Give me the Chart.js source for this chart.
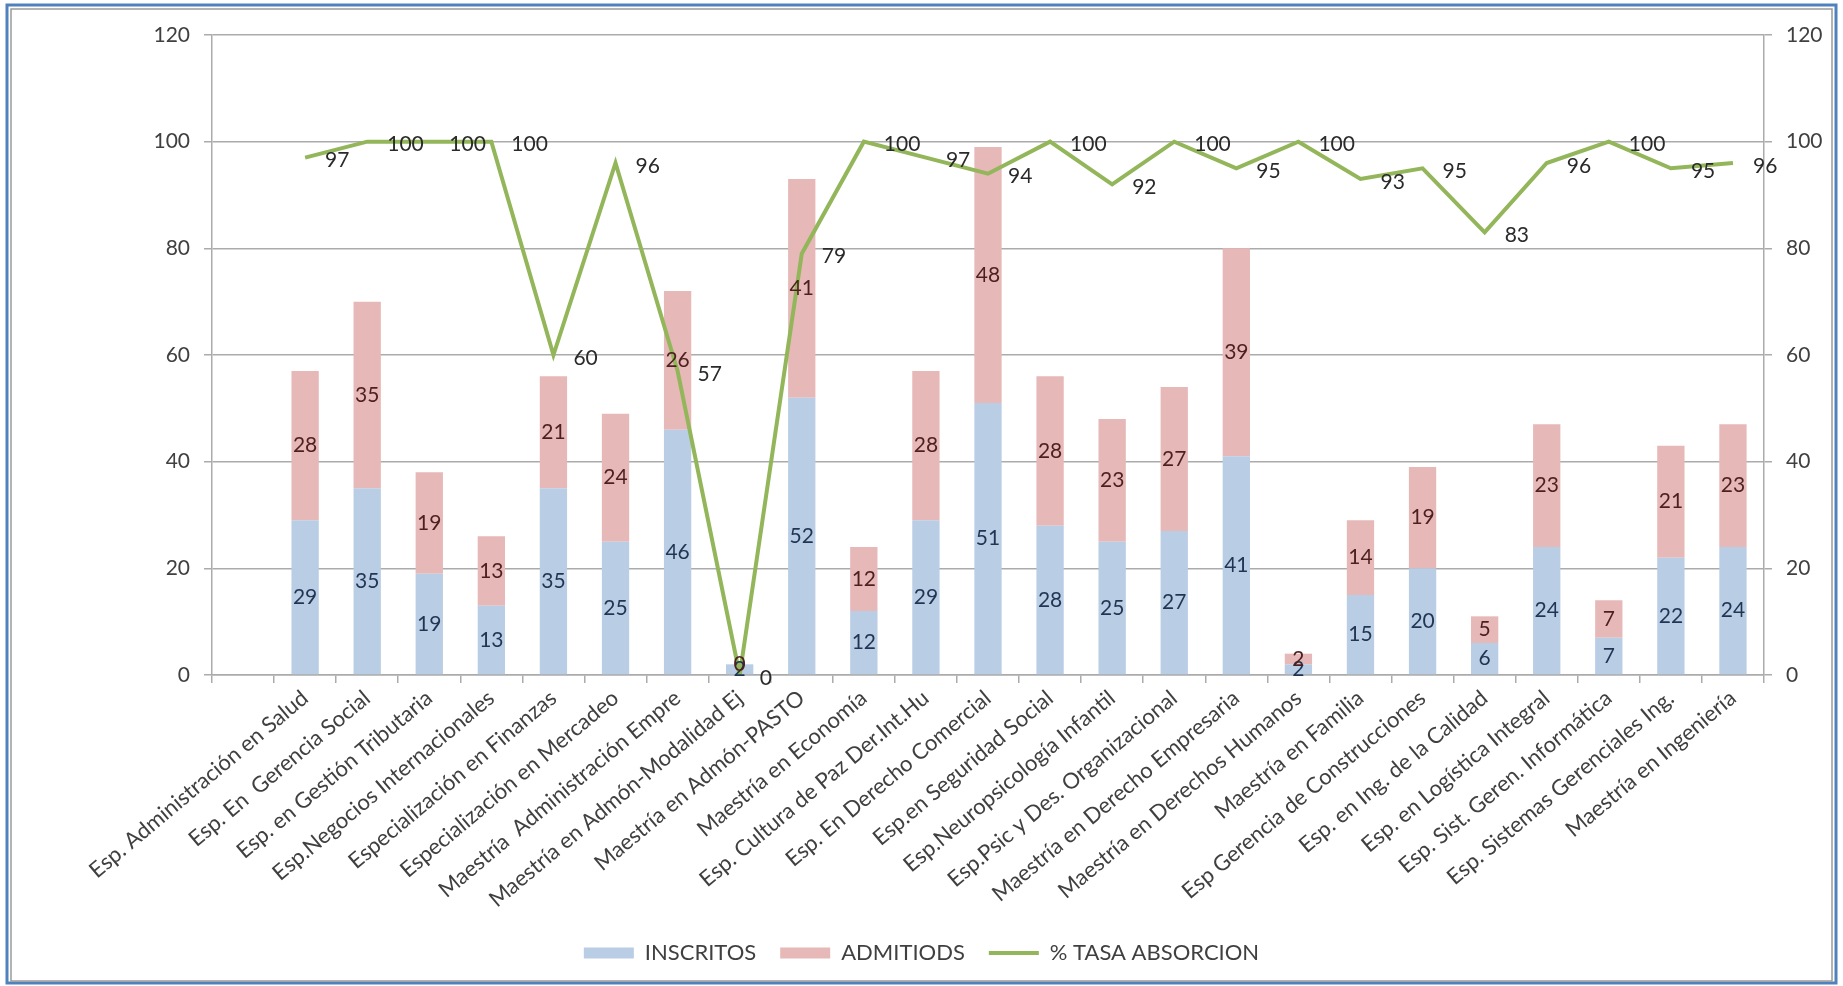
<!DOCTYPE html>
<html>
<head>
<meta charset="utf-8">
<script src="https://cdn.jsdelivr.net/npm/chart.js@4.4.1/dist/chart.umd.min.js"></script>
<style>
  html, body { margin: 0; padding: 0; background: #fff; }
  canvas { display: block; }
</style>
</head>
<body>
<canvas id="myChart" width="1843" height="986"></canvas>
<script>
// datos
const programas = [
    "Esp. Administración en Salud",
    "Esp. En  Gerencia Social",
    "Esp. en Gestión Tributaria",
    "Esp.Negocios Internacionales",
    "Especialización en Finanzas",
    "Especialización en Mercadeo",
    "Maestría  Administración Empre",
    "Maestría en Admón-Modalidad Ej",
    "Maestría en Admón-PASTO",
    "Maestría en Economía",
    "Esp. Cultura de Paz Der.Int.Hu",
    "Esp. En Derecho Comercial",
    "Esp.en Seguridad Social",
    "Esp.Neuropsicología Infantil",
    "Esp.Psic y Des. Organizacional",
    "Maestría en Derecho Empresaria",
    "Maestría en Derechos Humanos",
    "Maestría en Familia",
    "Esp Gerencia de Construcciones",
    "Esp. en Ing. de la Calidad",
    "Esp. en Logística Integral",
    "Esp. Sist. Geren. Informática",
    "Esp. Sistemas Gerenciales Ing.",
    "Maestría en Ingeniería",
];
const inscritos = [29, 35, 19, 13, 35, 25, 46, 2, 52, 12, 29, 51, 28, 25, 27, 41, 2, 15, 20, 6, 24, 7, 22, 24];
const admitidos = [28, 35, 19, 13, 21, 24, 26, 0, 41, 12, 28, 48, 28, 23, 27, 39, 2, 14, 19, 5, 23, 7, 21, 23];
const tasaAbsorcion = [97, 100, 100, 100, 60, 96, 57, 0, 79, 100, 97, 94, 100, 92, 100, 95, 100, 93, 95, 83, 96, 100, 95, 96];
const escalaY = [0, 20, 40, 60, 80, 100, 120];

// el grafico original deja una categoria vacia al principio
const etiquetasX = [""].concat(programas);
const conHueco = (arr) => [null].concat(arr);

const fuente = "Lato, 'Open Sans', sans-serif";
const gris = "#ababab";

const marco = {
    id: "marco",
    beforeDraw(chart) {
        const c = chart.ctx;
        c.save();
        c.fillStyle = "#fff";
        c.fillRect(0, 0, chart.width, chart.height);
        c.strokeStyle = "#4f81bd";
        c.lineWidth = 3;
        c.strokeRect(7, 5, chart.width - 14, chart.height - 8);
        c.strokeStyle = "#9a9a9a";
        c.lineWidth = 1.5;
        c.strokeRect(11, 9, chart.width - 22, chart.height - 14);
        c.restore();
    },
};

const valores = {
    id: "valores",
    afterDatasetsDraw(chart) {
        const c = chart.ctx;
        c.save();
        c.font = "21px " + fuente;
        chart.data.datasets.forEach((ds, i) => {
            const meta = chart.getDatasetMeta(i);
            meta.data.forEach((el, j) => {
                const v = ds.data[j];
                if (v === null || v === undefined) return;
                if (meta.type === "bar") {
                    c.textAlign = "center";
                    c.textBaseline = "middle";
                    c.fillStyle = ds.colorEtiqueta;
                    c.fillText(v, el.x, (el.y + el.base) / 2);
                } else {
                    c.textAlign = "left";
                    c.textBaseline = "middle";
                    c.fillStyle = "#2a2a2a";
                    c.fillText(v, el.x + 20, el.y + 3);
                }
            });
        });
        c.restore();
    },
};

const ctx = document.getElementById("myChart").getContext("2d");

new Chart(ctx, {
    type: "bar",
    data: {
        labels: etiquetasX,
        datasets: [
            {
                label: "INSCRITOS",
                data: conHueco(inscritos),
                backgroundColor: "#b9cde5",
                colorEtiqueta: "#1f3553",
                pointStyle: "rect",
                stack: "s",
                order: 1,
                barPercentage: 0.44,
                categoryPercentage: 1,
            },
            {
                label: "ADMITIODS",
                data: conHueco(admitidos),
                backgroundColor: "#e6b9b8",
                colorEtiqueta: "#4d1f1f",
                pointStyle: "rect",
                stack: "s",
                order: 2,
                barPercentage: 0.44,
                categoryPercentage: 1,
            },
            {
                type: "line",
                label: "% TASA ABSORCION",
                data: conHueco(tasaAbsorcion),
                borderColor: "#93b65a",
                backgroundColor: "#93b65a",
                borderWidth: 4,
                pointRadius: 0,
                pointStyle: "line",
                tension: 0,
                yAxisID: "y1",
                order: 0,
            },
        ],
    },
    options: {
        responsive: false,
        animation: false,
        devicePixelRatio: 1,
        layout: { padding: { top: 35, left: 10, right: 10, bottom: 12 } },
        plugins: {
            tooltip: { enabled: false },
            legend: {
                position: "bottom",
                labels: {
                    usePointStyle: true,
                    pointStyleWidth: 50,
                    boxHeight: 11,
                    padding: 24,
                    color: "#404040",
                    font: { family: fuente, size: 22 },
                    sort: (a, b) => a.datasetIndex - b.datasetIndex,
                },
            },
        },
        scales: {
            x: {
                stacked: true,
                offset: true,
                grid: {
                    offset: true,
                    drawOnChartArea: false,
                    drawTicks: true,
                    tickLength: 8,
                    color: gris,
                    lineWidth: 1.5,
                },
                border: { color: gris, width: 1.5 },
                ticks: {
                    autoSkip: false,
                    minRotation: 40,
                    maxRotation: 40,
                    padding: 2,
                    color: "#404040",
                    font: { family: fuente, size: 22 },
                },
                afterFit: (s) => { s.height = 243; },
            },
            y: {
                stacked: true,
                min: escalaY[0],
                max: escalaY[escalaY.length - 1],
                ticks: {
                    stepSize: escalaY[1] - escalaY[0],
                    padding: 14,
                    color: "#404040",
                    font: { family: fuente, size: 21 },
                },
                grid: { color: gris, lineWidth: 1.5, tickLength: 8 },
                border: { color: gris, width: 1.5 },
                afterFit: (s) => { s.width = 202; },
            },
            y1: {
                position: "right",
                min: escalaY[0],
                max: escalaY[escalaY.length - 1],
                ticks: {
                    stepSize: escalaY[1] - escalaY[0],
                    padding: 14,
                    color: "#404040",
                    font: { family: fuente, size: 21 },
                },
                grid: { drawOnChartArea: false, color: gris, lineWidth: 1.5, tickLength: 8 },
                border: { color: gris, width: 1.5 },
                afterFit: (s) => { s.width = 69; },
            },
        },
    },
    plugins: [marco, valores],
});
</script>
</body>
</html>
